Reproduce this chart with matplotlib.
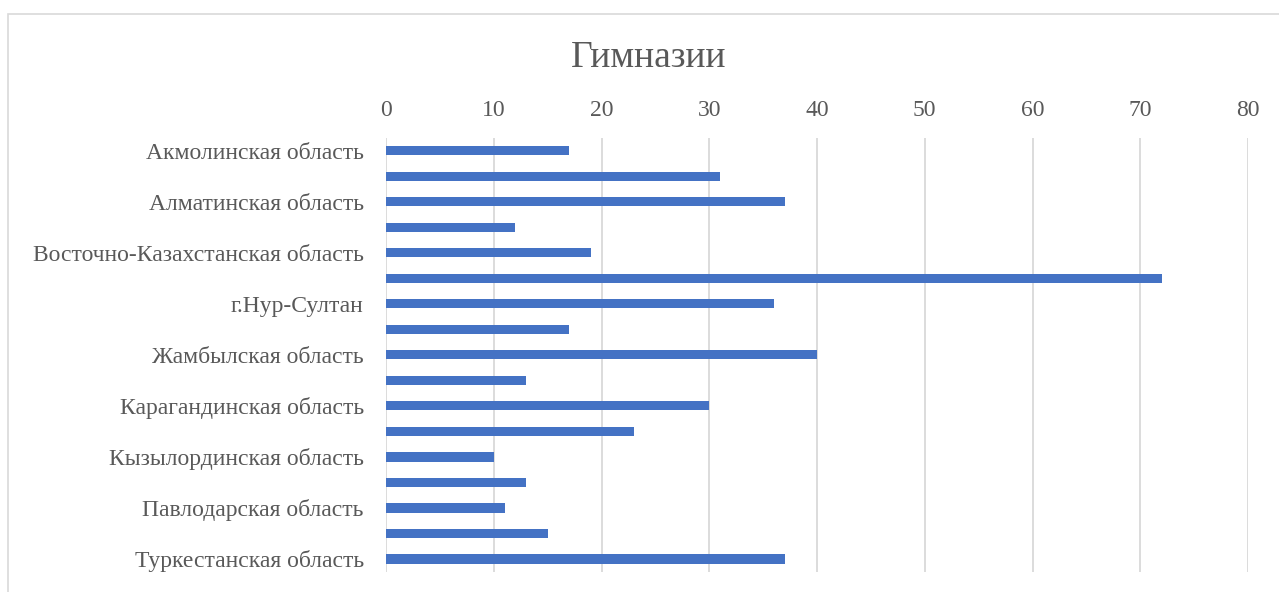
import matplotlib.pyplot as plt
import matplotlib.patches as patches
import numpy as np

regions = ['Акмолинская область', 'Актюбинская область', 'Алматинская область',
           'Атырауская область', 'Восточно-Казахстанская область', 'г.Алматы',
           'г.Нур-Султан', 'г.Шымкент', 'Жамбылская область',
           'Западно-Казахстанская область', 'Карагандинская область',
           'Костанайская область', 'Кызылординская область', 'Мангистауская область',
           'Павлодарская область', 'Северо-Казахстанская область', 'Туркестанская область']
gymnasiums = [17, 31, 37, 12, 19, 72, 36, 17, 40, 13, 30, 23, 10, 13, 11, 15, 37]
x_ticks = [0, 10, 20, 30, 40, 50, 60, 70, 80]

text_color = '#595959'
plt.rcParams['font.family'] = ['Liberation Serif', 'DejaVu Serif']

fig = plt.figure(figsize=(12.79, 5.92), dpi=100)
# light frame of the chart area
fig.patches.append(patches.Rectangle((8 / 1279, -0.1), 1.2, 1 - 14 / 592 + 0.1,
                                     transform=fig.transFigure, fill=False,
                                     edgecolor='#D9D9D9', linewidth=1.2))

ax = fig.add_axes([386 / 1279, 1 - 571.75 / 592, (1248 - 386) / 1279, (571.75 - 138) / 592])
y = np.arange(len(regions))
ax.barh(y, gymnasiums, height=0.36, color='#4472C4', zorder=3)

ax.set_xlim(0, 80)
ax.set_ylim(len(regions) - 0.5, -0.5)
ax.set_xticks(x_ticks)
ax.xaxis.tick_top()
ax.set_yticks(y)
ax.set_yticklabels([r if i % 2 == 0 else '' for i, r in enumerate(regions)])
ax.tick_params(axis='x', length=0, pad=12, labelsize=17, labelcolor=text_color)
ax.tick_params(axis='y', length=0, pad=16, labelsize=17, labelcolor=text_color)
for lbl in ax.get_yticklabels():
    lbl.set_va('center_baseline')
ax.grid(axis='x', color='#D9D9D9', linewidth=1.3, zorder=0)
for s in ax.spines.values():
    s.set_visible(False)

fig.text(649 / 1279, 1 - 58 / 592, 'Гимназии', ha='center', va='center',
         fontsize=27, color=text_color)

plt.savefig('out.png', dpi=100)
